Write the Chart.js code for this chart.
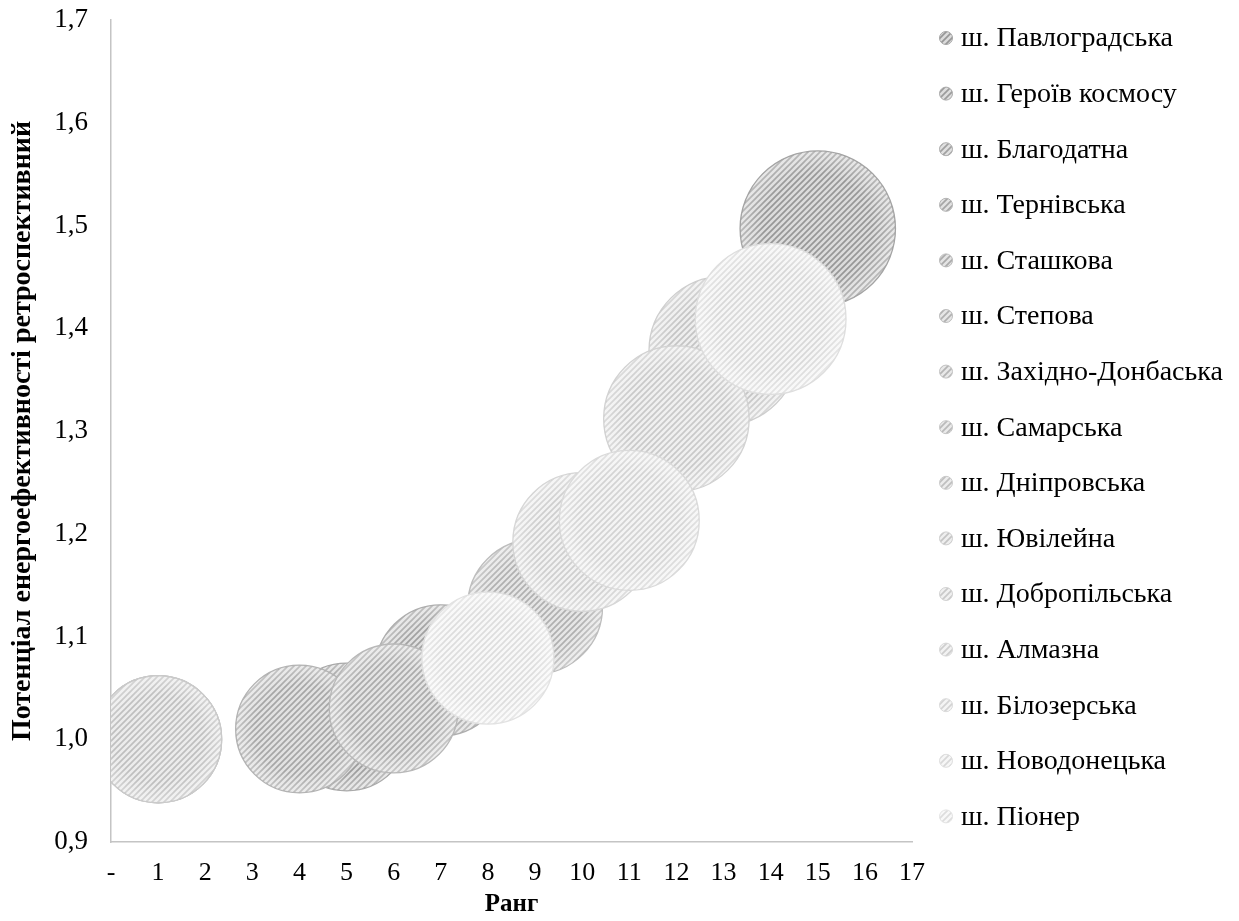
<!DOCTYPE html>
<html>
<head>
<meta charset="utf-8">
<script src="https://cdn.jsdelivr.net/npm/chart.js@4.4.1/dist/chart.umd.min.js"></script>
<style>
html,body{margin:0;padding:0;background:#fff;}
#wrap{width:1239px;height:921px;position:relative;}
</style>
</head>
<body>
<div id="wrap"><canvas id="c" width="1239" height="921"></canvas></div>
<script>
// ---- data ----
const mineNames = [
  'ш. Павлоградська', 'ш. Героїв космосу', 'ш. Благодатна', 'ш. Тернівська',
  'ш. Сташкова', 'ш. Степова', 'ш. Західно-Донбаська', 'ш. Самарська',
  'ш. Дніпровська', 'ш. Ювілейна', 'ш. Добропільська', 'ш. Алмазна',
  'ш. Білозерська', 'ш. Новодонецька', 'ш. Піонер'
];
const ranks = [15, 5, 7, 4, 6, 9, 1, 1, 1, 13, 12, 10, 11, 14, 8];
const potentials = [1.497, 1.012, 1.067, 1.010, 1.030, 1.129, 1.000, 1.000, 1.000, 1.378, 1.312, 1.192, 1.213, 1.409, 1.079];
const bubbleSizes = [1.497, 1.012, 1.067, 1.010, 1.030, 1.129, 1.000, 1.000, 1.000, 1.378, 1.312, 1.192, 1.213, 1.409, 1.079];
const xTickLabels = ['-', '1', '2', '3', '4', '5', '6', '7', '8', '9', '10', '11', '12', '13', '14', '15', '16', '17'];
const yTickLabels = ['0,9', '1,0', '1,1', '1,2', '1,3', '1,4', '1,5', '1,6', '1,7'];
const xTitle = 'Ранг';
const yTitle = 'Потенціал енергоефективності ретроспективний';

// ---- styles ----
const stripeColors = ['#979797','#9c9c9c','#a1a1a1','#a6a6a6','#ababab','#b0b0b0','#b5b5b5','#bababa','#bfbfbf','#c4c4c4','#c9c9c9','#cecece','#d3d3d3','#d8d8d8','#dddddd'];
const fillColors   = ['#dcdcdc','#dedede','#e0e0e0','#e2e2e2','#e4e4e4','#e6e6e6','#e8e8e8','#eaeaea','#ececec','#eeeeee','#f0f0f0','#f2f2f2','#f4f4f4','#f6f6f6','#f8f8f8'];
const borderColors = ['#a4a4a4','#a9a9a9','#aeaeae','#b3b3b3','#b8b8b8','#bdbdbd','#c2c2c2','#c6c6c6','#cacaca','#cecece','#d2d2d2','#d6d6d6','#dadada','#dedede','#e2e2e2'];
const FONT = '"Liberation Serif", "Times New Roman", serif';
const BUBBLE_R = 63.5;

function makePattern(bg, fg) {
  const s = 6;
  const t = document.createElement('canvas');
  t.width = s; t.height = s;
  const g = t.getContext('2d');
  g.fillStyle = bg; g.fillRect(0, 0, s, s);
  g.strokeStyle = fg; g.lineWidth = 1.7;
  g.beginPath();
  g.moveTo(-2, s + 2); g.lineTo(s + 2, -2);
  g.moveTo(-2, 2); g.lineTo(2, -2);
  g.moveTo(s - 2, s + 2); g.lineTo(s + 2, s - 2);
  g.stroke();
  return g.createPattern(t, 'repeat');
}

const N = mineNames.length;
const datasets = mineNames.map((name, i) => ({
  label: name,
  data: [{ x: ranks[i], y: potentials[i], r: BUBBLE_R * Math.sqrt(bubbleSizes[i]) }],
  backgroundColor: makePattern(fillColors[i], stripeColors[i]),
  borderColor: borderColors[i],
  borderWidth: 1.3,
  hoverBorderWidth: 1.3,
  hoverRadius: 0,
  order: N - i
}));

// soft light rim on every bubble, drawn right after its own dataset
const bubbleRim = {
  id: 'bubbleRim',
  afterDatasetDraw(chart, args) {
    const ctx = chart.ctx;
    const a = chart.chartArea;
    ctx.save();
    ctx.beginPath();
    ctx.rect(a.left, a.top, a.right - a.left, a.bottom - a.top);
    ctx.clip();
    args.meta.data.forEach((el) => {
      const r = el.options.radius;
      const g = ctx.createRadialGradient(el.x, el.y, r * 0.7, el.x, el.y, r);
      g.addColorStop(0, 'rgba(255,255,255,0)');
      g.addColorStop(1, 'rgba(255,255,255,0.35)');
      ctx.beginPath();
      ctx.arc(el.x, el.y, r - 0.8, 0, Math.PI * 2);
      ctx.fillStyle = g;
      ctx.fill();
    });
    ctx.restore();
  }
};

const sideLegend = {
  id: 'sideLegend',
  afterDraw(chart) {
    const ctx = chart.ctx;
    ctx.save();
    ctx.font = '28px ' + FONT;
    ctx.textBaseline = 'middle';
    ctx.textAlign = 'left';
    chart.data.datasets.forEach((ds, i) => {
      const y = 38 + i * 55.6;
      ctx.beginPath();
      ctx.arc(946, y, 6.5, 0, Math.PI * 2);
      ctx.fillStyle = ds.backgroundColor;
      ctx.fill();
      ctx.lineWidth = 1;
      ctx.strokeStyle = ds.borderColor;
      ctx.stroke();
      ctx.fillStyle = '#000';
      ctx.fillText(ds.label, 961, y + 1);
    });
    ctx.restore();
  }
};

Chart.defaults.font.family = FONT;
Chart.defaults.color = '#000';

new Chart(document.getElementById('c'), {
  type: 'bubble',
  data: { datasets },
  options: {
    responsive: false,
    animation: false,
    events: [],
    layout: { autoPadding: false, padding: { top: 20, right: 327, left: 0, bottom: 0 } },
    plugins: { legend: { display: false }, tooltip: { enabled: false } },
    scales: {
      x: {
        type: 'linear', min: 0, max: 17,
        grid: { display: false, drawTicks: true, tickLength: 16 },
        border: { display: true, color: '#c4c4c4', width: 1.5 },
        ticks: {
          stepSize: 1, padding: 0, autoSkip: false, maxRotation: 0,
          font: { size: 26, family: FONT }, color: '#000',
          callback: (v) => xTickLabels[Math.round(v)]
        },
        title: { display: true, text: xTitle, font: { size: 25, weight: 'bold', family: FONT }, color: '#000', padding: { top: 0, bottom: 1 } },
        afterFit(scale) { scale.height = 79; }
      },
      y: {
        type: 'linear', min: 0.9, max: 1.7,
        grid: { display: false, drawTicks: true, tickLength: 23 },
        border: { display: true, color: '#c4c4c4', width: 1.5 },
        ticks: {
          stepSize: 0.1, padding: 0,
          font: { size: 27, family: FONT }, color: '#000',
          callback: (v) => yTickLabels[Math.round((v - 0.9) * 10)]
        },
        title: { display: true, text: yTitle, font: { size: 28, weight: 'bold', family: FONT }, color: '#000', padding: { top: 6, bottom: 0 } },
        afterFit(scale) { scale.width = 111; }
      }
    }
  },
  plugins: [bubbleRim, sideLegend]
});
</script>
</body>
</html>
